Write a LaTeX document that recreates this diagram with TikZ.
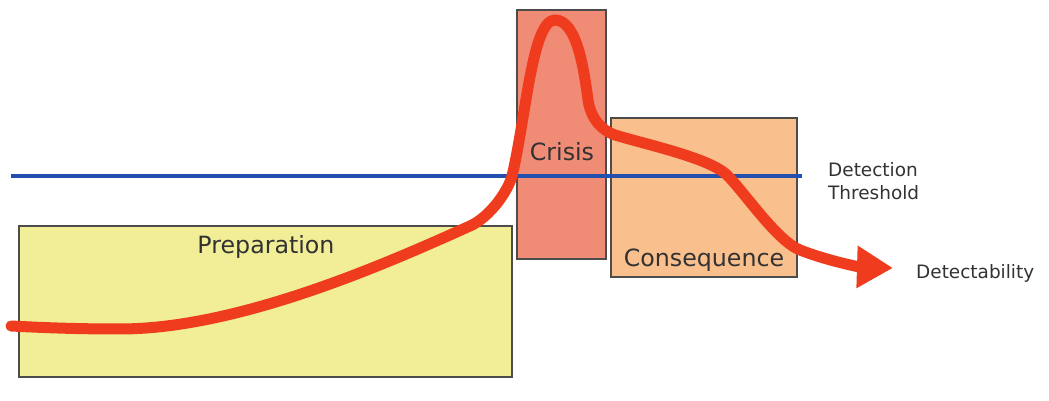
\documentclass[tikz,border=0pt]{standalone}
\usepackage{fontspec}
\setmainfont{DejaVu Sans}
\usetikzlibrary{positioning}
\usetikzlibrary{arrows.meta}
\definecolor{prepyellow}{RGB}{242, 238, 152}
\definecolor{crisisred}{RGB}{240, 140, 118}
\definecolor{consorange}{RGB}{249, 192, 142}
\definecolor{curvered}{RGB}{240, 60, 30}
\definecolor{lineblue}{RGB}{35, 80, 175}
\definecolor{textgray}{RGB}{50, 50, 50}

\begin{document}
\begin{tikzpicture}[x=0.02cm, y=-0.02cm,
    phase/.style={draw=black!70, line width=0.6pt, inner sep=0pt},
    phasetext/.style={text=textgray, font=\fontsize{13.5}{16}\selectfont},
    sidetext/.style={text=textgray, font=\fontsize{10.5}{13}\selectfont, align=left, anchor=west}]
    % Rahmen des Bildes
    \useasboundingbox[fill=white] (0,0) rectangle (1049,401);

    % Die drei Phasen als Kästen
    \node[phase, fill=prepyellow, minimum width=493*0.02cm, minimum height=151*0.02cm] (prep) at (265.5,301.5) {};
    \node[phase, fill=crisisred, minimum width=89*0.02cm, minimum height=249*0.02cm] (crisis) at (561.5,134.5) {};
    \node[phase, fill=consorange, minimum width=186*0.02cm, minimum height=159*0.02cm] (cons) at (704,197.5) {};

    % Erkennungsschwelle
    \coordinate (thleft) at (11,176);
    \coordinate (thright) at (802,176);
    \draw[lineblue, line width=2.2pt] (thleft) -- (thright);

    % Kurve der Erkennbarkeit mit Pfeil
    \draw[curvered, line width=0.22cm, line cap=round, -{Triangle[length=0.72cm, width=0.8cm]}]
        (11,326) .. controls (50,328) and (80,329) .. (120,329)
        .. controls (240,329) and (390,262) .. (470,226)
        .. controls (490,217) and (508,191) .. (512,176)
        .. controls (526,118) and (532,20) .. (555,20)
        .. controls (577,20) and (584,70) .. (588,100)
        .. controls (591,120) and (603,131) .. (615,135)
        .. controls (650,145.5) and (709,158) .. (727,175)
        .. controls (745,193) and (777,241) .. (800,250)
        .. controls (828,261) and (860,267) .. (893,268);

    % Beschriftungen
    \node[phasetext] (preplabel) at (266,247) {Preparation};
    \node[phasetext] (crisislabel) at (562,152) {Crisis};
    \node[phasetext] (conslabel) at (704,260) {Consequence};
    \node[sidetext] (thlabel) at (822,181) {Detection\\Threshold};
    \node[sidetext] (detlabel) at (910,273) {Detectability};
\end{tikzpicture}
\end{document}
